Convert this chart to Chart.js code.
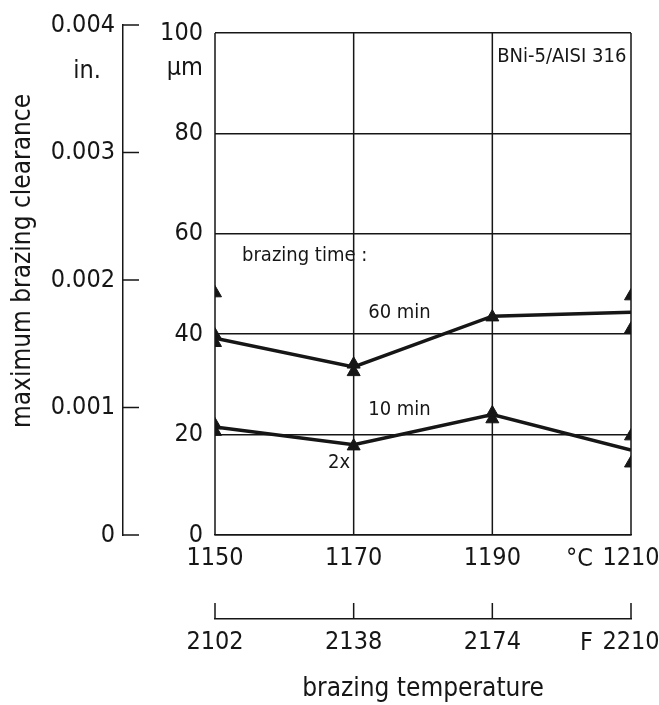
<!DOCTYPE html>
<html>
<head>
<meta charset="utf-8">
<script src="https://cdn.jsdelivr.net/npm/chart.js@4.4.1/dist/chart.umd.min.js"></script>
<style>
  html, body { margin: 0; padding: 0; background: #fff; }
  #wrap { width: 659px; height: 705px; }
</style>
</head>
<body>
<div id="wrap"><canvas id="chart" width="659" height="705"></canvas></div>
<script>
// brazing temperature, both scales
const tempsC = [1150, 1170, 1190, 1210];
const tempsF = [2102, 2138, 2174, 2210];

// fitted curves (µm)
const clearance60 = [39.2, 33.5, 43.6, 44.4];
const clearance10 = [21.5, 18.0, 24.0, 16.9];

// single measurements (triangles)
const measTemps  = [1150, 1150, 1150, 1150, 1150, 1170, 1170, 1170, 1190, 1190, 1190, 1210, 1210, 1210, 1210];
const measValues = [48.2, 39.8, 38.3, 21.9, 20.6, 34.0, 32.5, 17.7, 43.4, 24.3, 23.1, 47.6, 41.0, 19.7, 14.3];

const umTicks = [0, 20, 40, 60, 80, 100];
const inTicks = [0, 0.001, 0.002, 0.003, 0.004];

const FONT = "'Liberation Sans Narrow', 'DejaVu Sans Condensed', 'Roboto Condensed', sans-serif";
const INK = '#161616';
const umMax = inTicks[inTicks.length - 1] * 25400;   // 0.004 in in µm

const notes = [
  { text: 'brazing time :', x: 1153.9, y: 55.7, align: 'left' },
  { text: '60 min',         x: 1172.1, y: 44.2, align: 'left' },
  { text: '10 min',         x: 1172.1, y: 24.9, align: 'left' },
  { text: '2x',             x: 1169.5, y: 14.3, align: 'right' },
  { text: 'BNi-5/AISI 316', x: 1190.7, y: 95.2, align: 'left' },
];

Chart.defaults.font.family = FONT;
Chart.defaults.color = INK;

const xy = (xs, ys) => xs.map((x, i) => ({ x, y: ys[i] }));
const setTicks = vals => s => { s.ticks = vals.map(v => ({ value: v })); };
const noPad = s => { s.paddingLeft = s.paddingRight = s.paddingTop = s.paddingBottom = 0; };

const extras = {
  id: 'extras',
  beforeDatasetsDraw(chart) {
    const { ctx, scales: { x, y, yIn, xF } } = chart;
    ctx.save();
    ctx.strokeStyle = INK;
    ctx.lineWidth = 1.5;
    ctx.beginPath();
    // vertical grid / frame, 0..100 µm only
    tempsC.forEach(t => {
      const px = x.getPixelForValue(t);
      ctx.moveTo(px, y.getPixelForValue(0));
      ctx.lineTo(px, y.getPixelForValue(umTicks[umTicks.length - 1]));
    });
    // inch ticks pointing right
    inTicks.forEach(v => {
      const py = yIn.getPixelForValue(v);
      ctx.moveTo(yIn.right, py);
      ctx.lineTo(yIn.right + 16, py);
    });
    // Fahrenheit ticks pointing up
    tempsF.forEach(v => {
      const px = xF.getPixelForValue(v);
      ctx.moveTo(px, xF.top);
      ctx.lineTo(px, xF.top - 16);
    });
    ctx.stroke();
    ctx.restore();
  },
  afterDraw(chart) {
    const { ctx, scales: { x, y, yIn, xF } } = chart;
    ctx.save();
    ctx.fillStyle = INK;
    ctx.textBaseline = 'middle';

    ctx.font = `20px ${FONT}`;
    notes.forEach(n => {
      ctx.textAlign = n.align;
      ctx.fillText(n.text, x.getPixelForValue(n.x), y.getPixelForValue(n.y));
    });

    ctx.font = `25px ${FONT}`;
    ctx.textAlign = 'right';
    ctx.fillText('µm', y.right - 12, y.getPixelForValue(100) + 35);
    ctx.fillText('in.', yIn.right - 22, yIn.getPixelForValue(0.004) + 46);
    ctx.textBaseline = 'top';
    ctx.fillText('°C', x.getPixelForValue(1210) - 38, x.top + 12);
    ctx.fillText('F', xF.getPixelForValue(2210) - 38, xF.top + 12);

    ctx.font = `26px ${FONT}`;
    ctx.textAlign = 'center';
    ctx.textBaseline = 'middle';
    ctx.translate(23, 261);
    ctx.rotate(-Math.PI / 2);
    ctx.fillText('maximum brazing clearance', 0, 0);
    ctx.restore();
  }
};

new Chart(document.getElementById('chart'), {
  type: 'scatter',
  data: {
    datasets: [
      { label: '60 min', data: xy(tempsC, clearance60), showLine: true, borderColor: INK, borderWidth: 3.5, pointRadius: 0 },
      { label: '10 min', data: xy(tempsC, clearance10), showLine: true, borderColor: INK, borderWidth: 3.5, pointRadius: 0 },
      { label: 'measured', data: xy(measTemps, measValues), pointStyle: 'triangle', pointRadius: 7.5,
        backgroundColor: INK, borderColor: INK, borderWidth: 1 }
    ]
  },
  options: {
    responsive: false,
    animation: false,
    devicePixelRatio: 1,
    layout: { padding: { top: 25, right: 28, left: 0, bottom: 0 } },
    plugins: { legend: { display: false }, tooltip: { enabled: false } },
    scales: {
      x: {
        type: 'linear', position: 'bottom', weight: 0, min: 1150, max: 1210,
        afterBuildTicks: setTicks(tempsC),
        afterFit: s => { s.height = 84; noPad(s); },
        grid: { display: false, drawTicks: false },
        border: { display: true, color: INK, width: 1.5 },
        ticks: { font: { size: 25 }, padding: 8, maxRotation: 0, autoSkip: false, callback: v => String(v) }
      },
      xF: {
        type: 'linear', position: 'bottom', weight: 1, min: 2102, max: 2210,
        afterBuildTicks: setTicks(tempsF),
        afterFit: s => { s.height = 86; noPad(s); },
        grid: { display: false, drawTicks: false },
        border: { display: true, color: INK, width: 1.5 },
        ticks: { font: { size: 25 }, padding: 8, maxRotation: 0, autoSkip: false, callback: v => String(v) },
        title: { display: true, text: 'brazing temperature', font: { size: 26 }, padding: 0 }
      },
      y: {
        position: 'left', weight: 0, min: 0, max: umMax,
        afterBuildTicks: setTicks(umTicks),
        afterFit: s => { s.width = 92; noPad(s); },
        grid: { color: INK, lineWidth: 1.5, drawTicks: false },
        border: { display: false },
        ticks: { font: { size: 25 }, padding: 12, callback: v => String(v) }
      },
      yIn: {
        position: 'left', weight: 1, min: 0, max: inTicks[inTicks.length - 1],
        afterBuildTicks: setTicks(inTicks),
        afterFit: s => { s.width = 123; noPad(s); },
        grid: { display: false, drawTicks: false },
        border: { display: true, color: INK, width: 1.5 },
        ticks: { font: { size: 25 }, padding: 8, callback: v => v === 0 ? '0' : v.toFixed(3) }
      }
    }
  },
  plugins: [extras]
});
</script>
</body>
</html>
